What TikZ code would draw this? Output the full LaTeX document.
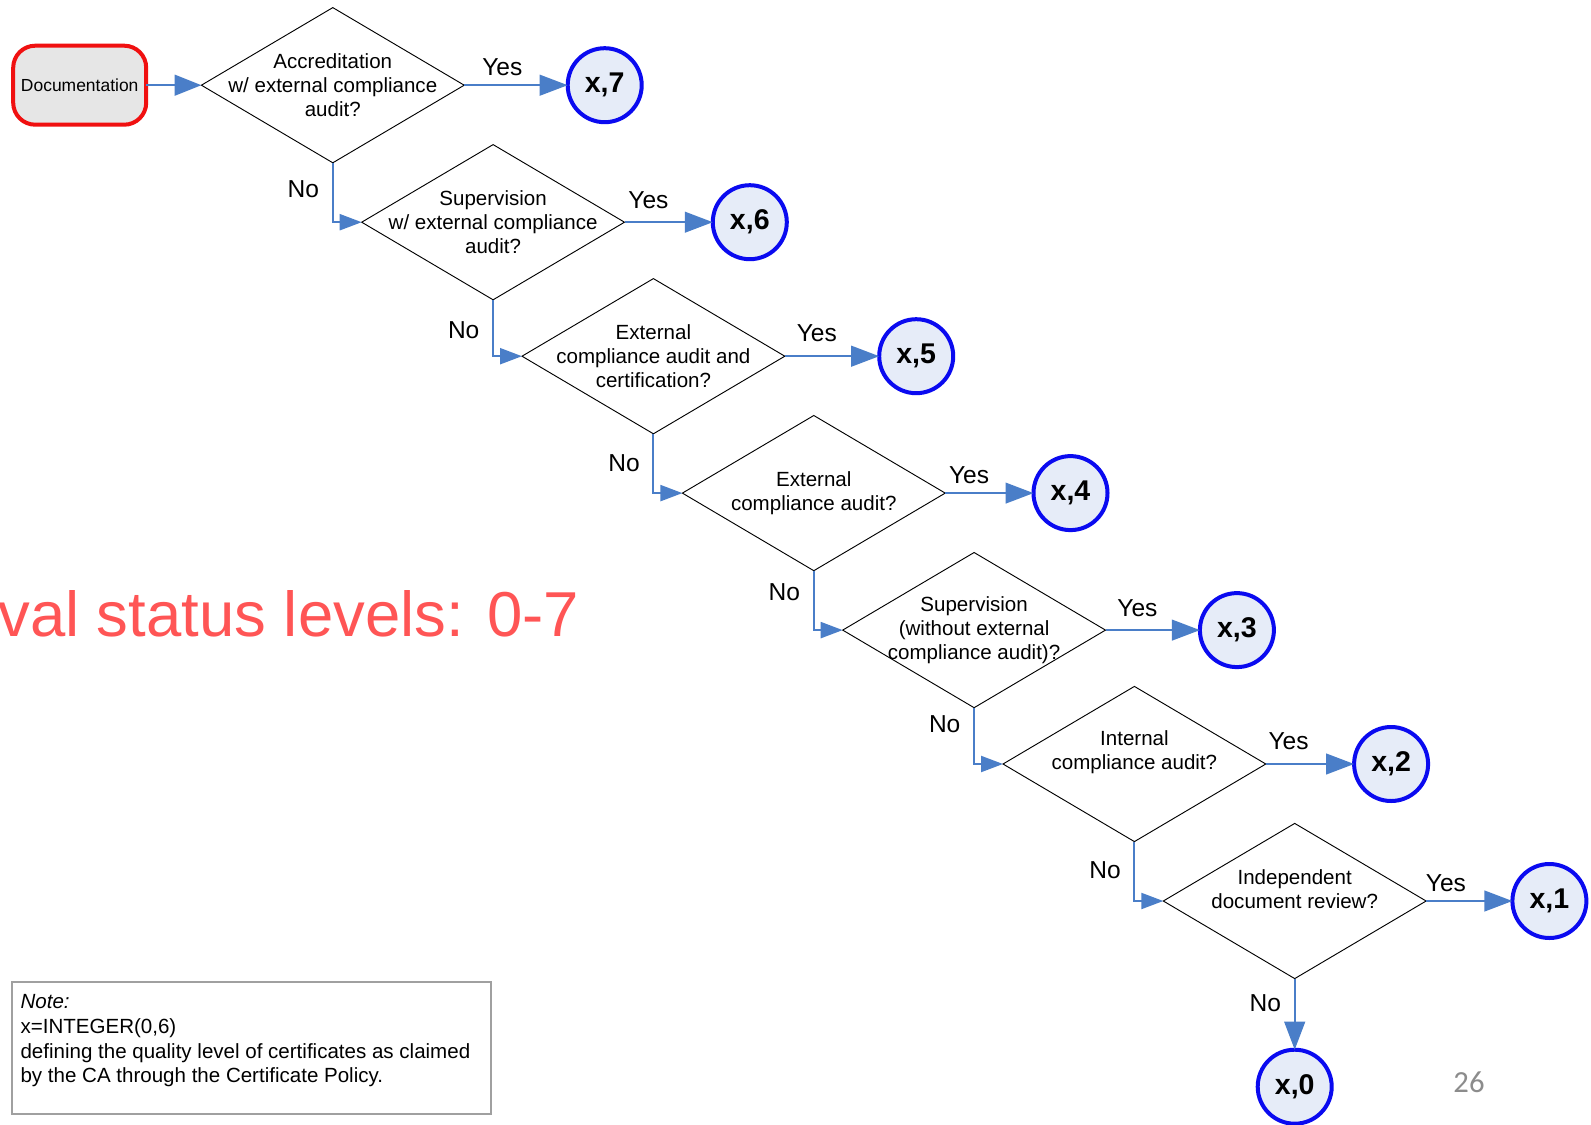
\documentclass[tikz,border=0pt]{standalone}
\usepackage{fontspec}
\setmainfont{Liberation Sans}
\newfontfamily\carl{Carlito}
\usetikzlibrary{shapes.geometric,arrows.meta}
\definecolor{arrowblue}{HTML}{4A7EC8}
\definecolor{circblue}{HTML}{0A0AF0}
\definecolor{circfill}{HTML}{E6ECF8}
\definecolor{docred}{HTML}{F01010}
\definecolor{docfill}{HTML}{E6E6E6}
\definecolor{redtext}{HTML}{FF5555}
\definecolor{notegray}{HTML}{A0A0A0}
\definecolor{pagegray}{HTML}{8C8C8C}
\begin{document}
\begin{tikzpicture}[x=0.75pt,y=-0.75pt,
  dia/.style={diamond,draw=black,line width=0.7pt,minimum width=197.1pt,minimum height=116.4pt,inner sep=0pt,outer sep=0pt},
  dtext/.style={align=center,inner sep=0pt,font=\fontsize{15.4}{18.3}\selectfont},
  res/.style={circle,draw=circblue,fill=circfill,line width=3pt,minimum size=55.5pt,inner sep=0pt,outer sep=0pt,font=\bfseries\fontsize{21.4}{24}\selectfont},
  docbox/.style={rectangle,rounded corners=16.5pt,draw=docred,fill=docfill,line width=3pt,minimum width=99.75pt,minimum height=59.25pt,inner sep=0pt,outer sep=0pt,font=\fontsize{13.1}{15}\selectfont},
  yesarr/.style={draw=arrowblue,line width=1.6pt,-{Triangle[length=21pt,width=15.5pt]}},
  noarr/.style={draw=arrowblue,line width=1.6pt,-{Triangle[length=16.5pt,width=12pt]}},
  lbl/.style={inner sep=0pt,font=\fontsize{18.4}{20}\selectfont}
]
\useasboundingbox (0,0) rectangle (1591,1124);
\fill[white] (0,0) rectangle (1591,1124);

% start
\node[docbox] (doc) at (79.7,85.2) {Documentation};

% decisions
\node[dia,label={[dtext]center:{Accreditation\\w/ external compliance\\audit?}}] (d1) at (332.8,85.2) {};
\node[dia,label={[dtext]center:{Supervision\\w/ external compliance\\audit?}}] (d2) at (493.1,222.2) {};
\node[dia,label={[dtext]center:{External\\compliance audit and\\certification?}}] (d3) at (653.4,356.2) {};
\node[dia,label={[dtext]center:{External\\compliance audit?}}] (d4) at (813.8,493.1) {};
\node[dia,label={[dtext]center:{Supervision\\(without external\\compliance audit)?}}] (d5) at (974.1,630.1) {};
\node[dia,label={[dtext,yshift=9pt]center:{Internal\\compliance audit?}}] (d6) at (1134.4,764.0) {};
\node[dia,label={[dtext,yshift=9pt]center:{Independent\\document review?}}] (d7) at (1294.7,901.0) {};

% results
\node[res] (c7) at (604.7,85.2) {x,7};
\node[res] (c6) at (749.8,222.2) {x,6};
\node[res] (c5) at (916.2,356.2) {x,5};
\node[res] (c4) at (1070.5,493.1) {x,4};
\node[res] (c3) at (1236.9,630.1) {x,3};
\node[res] (c2) at (1391.1,764.0) {x,2};
\node[res] (c1) at (1549.4,901.0) {x,1};
\node[res] (c0) at (1294.7,1086.7) {x,0};

% connectors
\draw[draw=arrowblue,line width=1.6pt,-{Triangle[length=20pt,width=15.5pt]}] (doc.east) -- (d1.west);
\draw[yesarr] (d1.east) -- (c7.west);
\draw[yesarr] (d2.east) -- (c6.west);
\draw[yesarr] (d3.east) -- (c5.west);
\draw[yesarr] (d4.east) -- (c4.west);
\draw[yesarr] (d5.east) -- (c3.west);
\draw[yesarr] (d6.east) -- (c2.west);
\draw[yesarr] (d7.east) -- (c1.west);
\draw[noarr] (d1.south) |- (d2.west);
\draw[noarr] (d2.south) |- (d3.west);
\draw[noarr] (d3.south) |- (d4.west);
\draw[noarr] (d4.south) |- (d5.west);
\draw[noarr] (d5.south) |- (d6.west);
\draw[noarr] (d6.south) |- (d7.west);
\draw[yesarr] (d7.south) -- (c0.north);

% labels
\node[lbl] (y1) at (502.3,67.0) {Yes};
\node[lbl] (y2) at (648.4,199.9) {Yes};
\node[lbl] (y3) at (816.8,332.8) {Yes};
\node[lbl] (y4) at (969.0,474.9) {Yes};
\node[lbl] (y5) at (1137.4,607.8) {Yes};
\node[lbl] (y6) at (1288.6,740.7) {Yes};
\node[lbl] (y7) at (1445.9,882.8) {Yes};
\node[lbl] (n1) at (303.4,188.7) {No};
\node[lbl] (n2) at (463.7,329.8) {No};
\node[lbl] (n3) at (624.0,462.7) {No};
\node[lbl] (n4) at (784.3,592.6) {No};
\node[lbl] (n5) at (944.7,724.5) {No};
\node[lbl] (n6) at (1105.0,870.6) {No};
\node[lbl] (n7) at (1265.3,1003.5) {No};

% red title fragment
\node[anchor=base west,inner sep=0pt,text=redtext,font=\fontsize{47.6}{52}\selectfont] (title) at (-2,636) {val status levels: 0-7};

% note
\node[draw=notegray,line width=1.1pt,minimum width=359.2pt,minimum height=98.9pt,inner sep=0pt,outer sep=0pt] (notebox) at (251.65,1048.15) {};
\node[anchor=west,align=left,inner sep=0pt,font=\fontsize{15.4}{18.7}\selectfont] (notetext) at (20.3,1040.6) {\textit{Note:}\\x=INTEGER(0,6)\\defining the quality level of certificates as claimed\\by the CA through the Certificate Policy.};

% page number
\node[inner sep=0pt,text=pagegray,font=\carl\fontsize{23}{26}\selectfont] (pg) at (1469,1082) {26};
\end{tikzpicture}
\end{document}
